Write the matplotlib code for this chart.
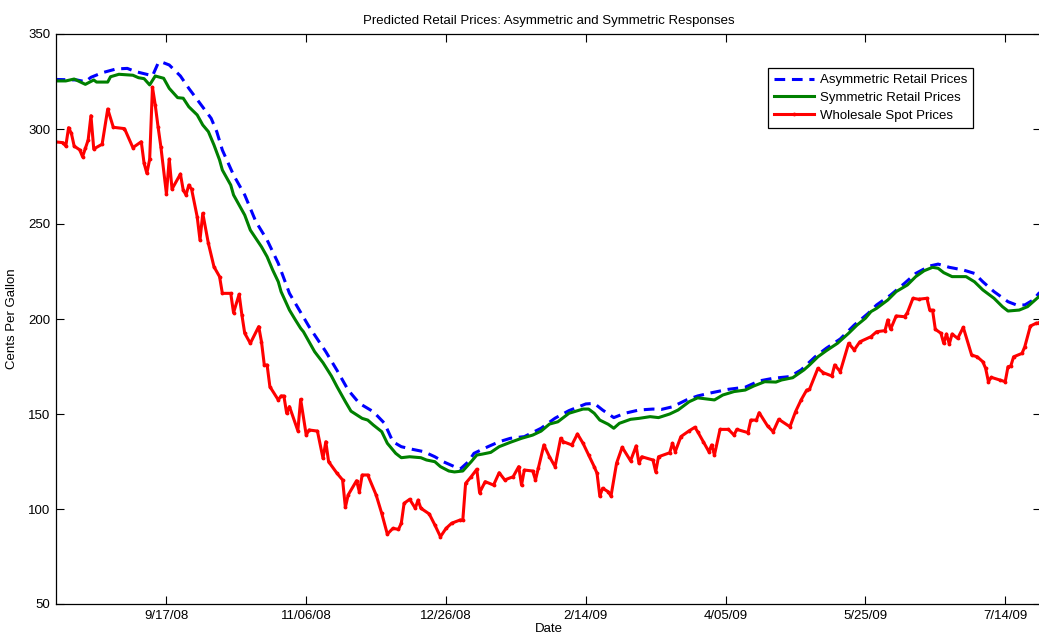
import numpy as np
import pandas as pd
import matplotlib
matplotlib.use('Agg')
import matplotlib.pyplot as plt

plt.rcParams['font.family'] = ['Liberation Sans', 'DejaVu Sans']

# Fecha base: los días de cada serie se cuentan desde aquí
inicio = pd.Timestamp('2008-08-08')

# Precios al por mayor (spot), centavos por galón
dias_spot = [0, 3, 4, 5, 6, 7, 9, 10, 11, 12, 13, 14, 17, 19, 21, 25, 28, 31, 32, 33,
             34, 35, 36, 37, 38, 40, 41, 42, 45, 46, 47, 48, 49, 51, 52, 53, 55, 57, 59, 60,
             63, 64, 66, 67, 68, 70, 73, 74, 75, 76, 77, 80, 81, 82, 83, 84, 87, 88, 90, 91,
             94, 96, 97, 98, 101, 103, 104, 105, 108, 109, 110, 112, 115, 117, 119, 121, 123, 124, 125, 127,
             129, 130, 131, 134, 136, 138, 140, 142, 145, 146, 147, 149, 151, 152, 154, 157, 159, 161, 164, 166,
             167, 168, 171, 172, 173, 175, 177, 179, 181, 182, 185, 187, 189, 191, 193, 194, 195, 196, 198, 199,
             201, 203, 206, 208, 209, 210, 214, 215, 216, 220, 221, 222, 224, 227, 229, 230, 232, 234, 235, 236,
             238, 241, 243, 244, 248, 249, 251, 252, 255, 257, 259, 263, 265, 267, 269, 270, 273, 275, 278, 279,
             281, 284, 286, 288, 292, 294, 297, 298, 299, 301, 304, 305, 307, 309, 312, 313, 314, 315, 317, 318,
             319, 320, 321, 323, 325, 328, 330, 332, 333, 334, 335, 338, 340, 341, 342, 343, 346, 347, 349, 351,
             352, 353]
precio_spot = [293.3, 292.8, 291.0, 300.7, 297.7, 291.0, 289.0, 285.4, 289.8, 294.2, 307.0, 289.5, 292.0, 310.5, 300.9, 300.2, 290.2, 293.3, 282.0, 276.7,
               284.0, 322.0, 312.6, 301.2, 290.7, 265.8, 284.2, 268.4, 276.3, 267.9, 265.3, 270.5, 268.3, 253.8, 241.6, 255.6, 239.8, 227.5, 222.3, 213.5,
               213.5, 203.3, 213.0, 202.0, 192.5, 187.2, 196.0, 188.0, 175.8, 175.8, 164.4, 157.4, 159.5, 159.5, 150.4, 153.9, 141.2, 157.7, 138.9, 141.6,
               141.0, 126.7, 135.4, 124.9, 118.8, 115.3, 100.9, 107.4, 114.9, 109.0, 117.9, 117.9, 107.4, 97.7, 86.8, 89.8, 89.3, 92.5, 103.0, 105.1,
               100.4, 104.7, 100.4, 97.4, 91.6, 85.4, 89.8, 92.5, 94.2, 94.2, 113.5, 117.0, 120.9, 108.6, 114.4, 112.6, 119.1, 115.3, 117.0, 122.3,
               112.6, 120.5, 120.0, 115.3, 121.4, 133.7, 127.5, 122.3, 137.2, 135.4, 133.7, 139.5, 134.6, 128.4, 122.3, 118.8, 106.8, 110.9, 109.1, 106.8,
               124.1, 132.5, 125.4, 133.2, 124.1, 127.5, 125.8, 119.6, 127.5, 129.6, 134.6, 130.2, 138.1, 141.2, 143.0, 140.7, 135.4, 130.2, 133.7, 128.4,
               141.9, 141.9, 138.9, 141.9, 140.2, 146.8, 146.8, 150.7, 143.7, 140.7, 147.2, 143.3, 151.2, 157.4, 162.6, 163.0, 174.0, 171.7, 170.0, 175.8,
               172.3, 187.2, 183.7, 188.0, 190.7, 193.3, 193.9, 199.5, 194.6, 201.6, 201.2, 203.3, 210.9, 210.4, 210.9, 204.7, 204.7, 194.6, 192.5, 187.2,
               192.1, 186.8, 192.1, 189.8, 195.6, 181.0, 180.1, 177.5, 174.0, 167.0, 169.3, 167.9, 167.0, 174.9, 175.3, 180.1, 181.9, 185.4, 196.3, 197.7,
               198.0, 199.0]

# Precios minoristas predichos, respuesta asimétrica
dias_asim = [0, 8, 11, 13, 17, 22, 26, 29, 34, 35, 37, 38, 41, 45, 48, 52, 56, 58, 60, 64,
             68, 72, 76, 80, 84, 87, 91, 97, 101, 105, 109, 114, 118, 121, 124, 128, 132, 136, 139, 143,
             145, 148, 150, 155, 159, 163, 168, 174, 179, 184, 190, 193, 196, 200, 204, 209, 214, 217, 221, 226,
             230, 235, 241, 247, 252, 257, 263, 267, 272, 276, 281, 286, 291, 294, 299, 304, 308, 313, 316, 320,
             325, 329, 332, 336, 341, 344, 347, 350, 352, 353]
precio_asim = [326.1, 325.8, 324.9, 327.2, 329.6, 331.6, 331.9, 330.2, 328.4, 327.9, 334.6, 335.4, 333.7, 327.9, 321.4, 313.5, 305.6, 298.6, 288.9, 275.8,
               265.3, 251.2, 241.6, 229.3, 213.5, 206.0, 196.0, 182.8, 173.0, 162.6, 155.6, 151.2, 145.1, 135.4, 132.8, 131.4, 130.2, 127.5, 124.9, 122.3,
               120.9, 124.9, 129.3, 132.8, 135.4, 137.2, 138.1, 142.5, 147.8, 151.8, 155.3, 155.6, 152.1, 148.1, 150.4, 152.1, 152.6, 152.4, 153.8, 157.4,
               159.5, 161.2, 163.0, 164.1, 167.4, 168.8, 169.7, 173.2, 180.1, 184.6, 189.5, 196.8, 203.0, 207.4, 212.6, 218.8, 224.0, 227.9, 228.9, 227.2,
               225.8, 224.0, 219.6, 214.4, 209.1, 207.4, 207.4, 210.0, 213.5, 214.5]

# Precios minoristas predichos, respuesta simétrica
dias_sim = [0, 4, 7, 9, 11, 14, 15, 19, 20, 23, 28, 30, 32, 34, 36, 39, 41, 44, 46, 48,
            51, 53, 55, 57, 59, 60, 63, 64, 66, 68, 70, 74, 76, 78, 80, 81, 84, 86, 88, 89,
            91, 93, 96, 99, 101, 104, 106, 110, 112, 114, 117, 119, 122, 124, 127, 131, 133, 136, 138, 141,
            143, 146, 149, 151, 153, 156, 159, 163, 167, 171, 174, 177, 180, 184, 189, 191, 193, 195, 198, 200,
            202, 206, 209, 213, 216, 220, 223, 227, 230, 236, 239, 243, 247, 250, 254, 258, 260, 264, 268, 270,
            273, 276, 280, 284, 287, 290, 292, 294, 298, 301, 305, 308, 311, 314, 316, 318, 321, 326, 329, 332,
            336, 339, 341, 345, 348, 350, 352, 353]
precio_sim = [325.3, 325.3, 326.3, 324.9, 323.5, 325.8, 324.7, 324.7, 327.5, 328.8, 328.3, 327.0, 326.5, 323.2, 327.9, 326.7, 321.4, 316.5, 316.2, 311.7,
              307.4, 302.1, 298.6, 291.6, 283.7, 278.4, 270.5, 265.3, 260.0, 254.7, 246.8, 238.0, 232.8, 225.8, 219.6, 214.4, 204.7, 199.8, 195.1, 193.3,
              188.0, 182.8, 177.0, 170.0, 164.4, 156.5, 151.5, 147.7, 146.8, 144.2, 140.7, 134.6, 129.3, 127.0, 127.5, 127.0, 125.8, 124.9, 122.3, 120.0,
              119.5, 120.0, 124.9, 128.4, 128.9, 129.8, 132.8, 135.1, 137.2, 138.9, 141.0, 144.7, 145.9, 150.4, 152.6, 152.6, 150.4, 146.8, 144.6, 142.5,
              145.1, 147.2, 147.7, 148.6, 148.1, 150.0, 152.1, 156.5, 158.5, 157.4, 160.0, 161.8, 162.6, 164.7, 167.0, 166.8, 167.9, 169.1, 173.2, 175.8,
              180.1, 183.3, 187.2, 192.5, 196.8, 200.4, 203.9, 205.6, 210.0, 214.4, 217.9, 222.3, 225.4, 227.2, 226.7, 224.4, 222.3, 222.3, 219.6, 215.3,
              210.9, 206.5, 204.2, 204.7, 206.5, 209.1, 211.7, 212.5]

etiquetas_x = ['9/17/08', '11/06/08', '12/26/08', '2/14/09', '4/05/09', '5/25/09', '7/14/09']
ticks_y = [50, 100, 150, 200, 250, 300, 350]


def a_fechas(dias):
    return inicio + pd.to_timedelta(dias, unit='D')


fig = plt.figure(figsize=(10.39, 6.35), dpi=100)
ax = fig.add_axes([56 / 1039, 1 - 604 / 635, (1041 - 56) / 1039, 570 / 635])

ax.plot(a_fechas(dias_asim), precio_asim, color='blue', linestyle='--', linewidth=2.2,
        dashes=(3.5, 2.2), label='Asymmetric Retail Prices')
ax.plot(a_fechas(dias_sim), precio_sim, color=(0, 0.5, 0), linewidth=2.2,
        label='Symmetric Retail Prices')
ax.plot(a_fechas(dias_spot), precio_spot, color='red', linewidth=2.2, marker='.',
        markersize=3.5, label='Wholesale Spot Prices')

ax.set_xlim(inicio + pd.Timedelta(hours=12), inicio + pd.Timedelta(days=352.8))
ax.set_ylim(50, 350)
ax.set_xticks(pd.to_datetime(etiquetas_x, format='%m/%d/%y'))
ax.set_xticklabels(etiquetas_x)
ax.set_yticks(ticks_y)

ax.tick_params(direction='in', length=6, width=0.8, top=True, right=True,
               labelsize=9.5, pad=4)
for lado in ax.spines.values():
    lado.set_linewidth(0.9)

ax.set_title('Predicted Retail Prices: Asymmetric and Symmetric Responses', fontsize=9.5, pad=7)
ax.set_xlabel('Date', fontsize=9.5, labelpad=1)
ax.set_ylabel('Cents Per Gallon', fontsize=9.5, labelpad=7)

leg = ax.legend(loc='upper left', bbox_to_anchor=(768 / 1039, 1 - 68 / 635),
                bbox_transform=fig.transFigure, fontsize=9.5, frameon=True, fancybox=False,
                handlelength=3.0, handletextpad=0.5, labelspacing=0.42, borderpad=0.45,
                borderaxespad=0)
leg.get_frame().set_edgecolor('black')
leg.get_frame().set_linewidth(0.9)
leg.get_frame().set_alpha(1)

fig.savefig('out.png', dpi=100)
